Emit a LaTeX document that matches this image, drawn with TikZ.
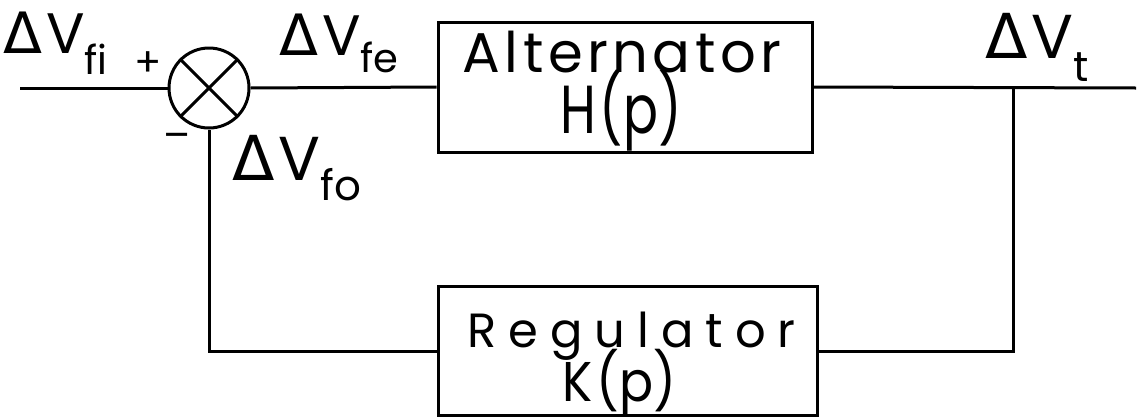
\documentclass[tikz,border=0pt]{standalone}
\usepackage{fontspec}
\setmainfont{Poppins}
\newfontfamily\gk{DejaVu Sans}
\newfontfamily\boxfont[LetterSpace=8]{Poppins}
\newfontfamily\regfont[LetterSpace=25]{Poppins}
\newfontfamily\fnfont{Poppins}
% \dvlab{size}{subsize}{drop}{subscript}
\newcommand\dvlab[4]{{\fontsize{#1}{#1}\selectfont{\gk Δ}\kern4pt V}\raisebox{-#3pt}{\fontsize{#2}{#2}\selectfont #4}}
% \twoline{h1}{gap}{line1}{line2}
\newcommand\twoline[4]{\vbox{\offinterlineskip\halign{\hfil##\hfil\cr
  \rule{0pt}{#1pt}\smash{#3}\cr
  \rule{0pt}{#2pt}\smash{#4}\cr}}}
\begin{document}
\begin{tikzpicture}[x=1pt,y=-1pt,
  wire/.style={line width=3pt},
  blockbox/.style={draw,line width=3pt,rectangle,inner sep=0pt},
  sumnode/.style={draw,circle,line width=3pt,minimum size=80pt,inner sep=0pt},
  siglab/.style={anchor=base west,inner sep=0pt},
  signlab/.style={inner sep=0pt,font=\fontsize{40}{40}\selectfont}]
\useasboundingbox (0,0) rectangle (1142,418);
\node[sumnode] (s) at (209,88) {};
\draw[wire] (s.north east) -- (s.south west) (s.north west) -- (s.south east);
\node[blockbox,minimum width=374pt,minimum height=130pt] (alt) at (625,87)
  {\twoline{31}{61}
    {\boxfont\fontsize{56}{56}\selectfont Alternator\kern6pt}
    {\fnfont\fontsize{68}{68}\selectfont\scalebox{0.76}[1]{H\kern5pt(p)}\kern8pt}};
\node[blockbox,minimum width=379pt,minimum height=129pt] (reg) at (627.5,351)
  {\twoline{46}{54}
    {\regfont\fontsize{48}{48}\selectfont\kern8pt Regulator}
    {\fnfont\fontsize{56}{56}\selectfont\scalebox{0.9}[1]{K\kern5pt(p)}\kern16pt}};
\coordinate (in) at (20,88);
\coordinate (out) at (1136,88);
\coordinate (tap) at (1013,88);
\draw[wire] (in) -- (s.west);
\draw[wire] (s.east) -- (alt.west);
\draw[wire] (alt.east) -- (out);
\draw[wire] (tap) -- (tap|-reg.east) -- (reg.east);
\draw[wire] (reg.west) -- (s|-reg.west) -- (s.south);
\node[siglab] (lfi) at (3,53) {\dvlab{57}{40}{21}{fi}};
\node[siglab] (lfe) at (279,55) {\dvlab{57}{40}{17}{fe}};
\node[siglab] (lfo) at (232,180) {\dvlab{62}{42}{20}{fo}};
\node[siglab] (lt) at (985,58) {\dvlab{62}{42}{23}{t}};
\node[signlab] (plus) at (148,64) {+};
\node[signlab] (minus) at (177,141) {–};
\end{tikzpicture}
\end{document}
